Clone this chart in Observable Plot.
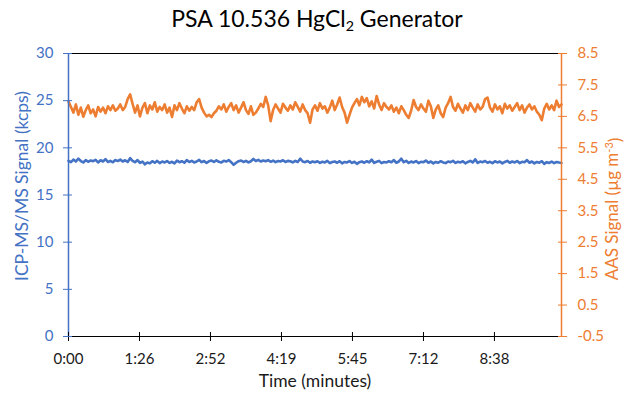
<!DOCTYPE html>
<html><head><meta charset="utf-8">
<script src="https://cdn.jsdelivr.net/npm/d3@7"></script>
<script src="https://cdn.jsdelivr.net/npm/@observablehq/plot@0.6"></script>
<style>
body{margin:0;background:#fff;font-family:Lato,sans-serif}
#title{width:628px;height:35px;display:flex;align-items:center;justify-content:center;font-size:23px;color:#000;font-family:Lato,sans-serif;box-sizing:border-box;padding-left:6px}
#title sub{font-size:0.62em;vertical-align:-0.3em;line-height:0}
</style></head><body>
<div id="title"><span>PSA 10.536 HgCl<sub>2</sub> Generator</span></div>
<div id="chart"></div>
<script>
// ICP-MS/MS signal (kcps), sampled every 3 s from 0:00 to 10:00
const icpValues = [
18.62,18.48,18.75,18.55,18.85,18.60,18.45,18.70,18.52,18.66,
18.58,18.72,18.45,18.68,18.55,18.80,18.50,18.62,18.47,18.70,
18.60,18.75,18.55,18.68,18.50,18.90,18.62,18.48,18.70,18.40,
18.55,18.25,18.45,18.35,18.58,18.42,18.62,18.38,18.55,18.45,
18.60,18.40,18.52,18.35,18.65,18.48,18.58,18.42,18.70,18.50,
18.62,18.45,18.55,18.72,18.48,18.60,18.40,18.58,18.65,18.50,
18.68,18.52,18.45,18.62,18.55,18.70,18.48,18.20,18.42,18.58,
18.65,18.50,18.62,18.45,18.58,18.82,18.60,18.72,18.55,18.66,
18.58,18.70,18.52,18.65,18.48,18.60,18.55,18.68,18.50,18.62,
18.58,18.45,18.62,18.50,18.85,18.55,18.48,18.60,18.42,18.55,
18.48,18.58,18.40,18.52,18.45,18.62,18.38,18.50,18.55,18.42,
18.58,18.35,18.50,18.45,18.60,18.40,18.52,18.30,18.48,18.55,
18.42,18.58,18.45,18.75,18.40,18.52,18.62,18.38,18.50,18.45,
18.58,18.48,18.70,18.42,18.55,18.85,18.48,18.62,18.40,18.55,
18.45,18.60,18.38,18.52,18.48,18.65,18.42,18.55,18.35,18.50,
18.42,18.58,18.45,18.38,18.55,18.48,18.62,18.40,18.52,18.45,
18.58,18.35,18.50,18.62,18.45,18.78,18.40,18.55,18.48,18.60,
18.42,18.52,18.38,18.58,18.45,18.55,18.35,18.50,18.62,18.42,
18.55,18.45,18.60,18.38,18.52,18.48,18.70,18.42,18.55,18.35,
18.50,18.42,18.58,18.30,18.48,18.40,18.55,18.38,18.50,18.44,
18.40];
// AAS signal (µg m-3), sampled every 3 s
const aasValues = [
6.97,6.80,6.62,6.88,6.55,6.78,6.49,6.70,6.85,6.60,
6.72,6.50,6.80,6.65,6.78,6.60,6.82,6.70,6.85,6.68,
6.75,6.88,6.70,6.80,7.05,7.20,6.90,6.62,6.85,6.50,
6.78,6.92,6.60,6.85,6.72,6.95,6.65,6.80,6.70,6.88,
6.62,6.78,6.48,6.85,6.70,6.92,6.75,6.60,6.82,6.68,
6.80,6.70,6.95,7.05,6.78,6.62,6.50,6.55,6.48,6.60,
6.68,6.82,6.72,6.88,6.65,6.80,6.92,6.70,6.85,6.62,
6.78,6.95,6.70,6.58,6.82,6.55,6.62,6.75,6.90,6.80,
7.12,6.85,6.35,6.70,6.88,6.75,6.62,6.90,6.78,6.68,
6.85,6.72,6.95,6.80,6.65,6.88,6.70,6.60,6.30,6.72,
6.85,6.68,6.92,6.75,6.82,6.62,6.78,7.00,6.70,6.88,
7.10,6.80,6.62,6.30,6.55,6.78,6.92,7.05,6.85,7.12,
6.95,7.08,6.82,6.98,6.75,7.15,6.88,6.70,6.92,6.80,
6.72,6.85,6.65,6.78,6.60,6.82,6.70,6.55,6.45,6.68,
7.02,6.80,6.70,6.88,6.75,6.65,7.00,6.82,6.45,6.72,
6.85,6.60,6.48,6.78,6.92,7.12,6.80,6.68,6.90,6.75,
6.62,6.85,6.70,6.92,6.78,6.65,6.88,6.72,6.80,7.05,
7.10,6.78,6.65,6.88,6.72,6.82,6.60,6.90,6.75,6.85,
6.68,6.80,6.92,6.70,6.85,6.62,6.78,6.88,6.72,6.82,
6.65,6.55,6.38,6.75,6.90,6.72,6.85,6.70,7.00,6.80,
6.88];
const sampleStepSeconds = 3;
const xTickSeconds = [0, 86.4, 172.8, 259.2, 345.6, 432, 518.4];
const xTickLabels = ["0:00","1:26","2:52","4:19","5:45","7:12","8:38"];
const leftTicks = [0,5,10,15,20,25,30];
const rightTicks = [-0.5,0.5,1.5,2.5,3.5,4.5,5.5,6.5,7.5,8.5];
const xMax = 600;
const leftMin = 0, leftMax = 30;
const rightMin = -0.5, rightMax = 8.5;

const blue = "#4472C4", orange = "#ED7D31";
const toLeft = v => (v - rightMin) / (rightMax - rightMin) * (leftMax - leftMin) + leftMin;
const toRight = d => (d - leftMin) / (leftMax - leftMin) * (rightMax - rightMin) + rightMin;

const icp = icpValues.map((v, i) => ({t: i * sampleStepSeconds, v}));
const aas = aasValues.map((v, i) => ({t: i * sampleStepSeconds, v}));

const chart = Plot.plot({
  width: 628,
  height: 358,
  marginTop: 18,
  marginBottom: 57,
  marginLeft: 68,
  marginRight: 67,
  style: {fontFamily: "Lato, sans-serif", fontSize: "15px", background: "#fff"},
  x: {domain: [0, xMax]},
  y: {domain: [leftMin, leftMax]},
  marks: [
    Plot.lineY(icp, {x: "t", y: "v", stroke: blue, strokeWidth: 2.6}),
    Plot.lineY(aas, {x: "t", y: d => toLeft(d.v), stroke: orange, strokeWidth: 2.6}),
    Plot.ruleY([leftMax], {stroke: "#000", strokeWidth: 1.2}),
    Plot.ruleY([leftMin], {stroke: "#000", strokeWidth: 1.2}),
    Plot.ruleX([0], {stroke: blue, strokeWidth: 1.5}),
    Plot.ruleX([xMax], {stroke: orange, strokeWidth: 1.5}),
    Plot.axisX(xTickSeconds, {anchor: "bottom", tickSize: 9, dy: -4, tickPadding: 12, label: null,
      tickFormat: d => xTickLabels[xTickSeconds.indexOf(d)], stroke: "#000", fill: "#1a1a1a", fontSize: 15}),
    Plot.axisY(leftTicks, {anchor: "left", tickSize: 9, dx: 4, tickPadding: 10, label: null,
      stroke: blue, fill: blue, fontSize: 15}),
    Plot.axisY(rightTicks.map(toLeft), {anchor: "right", tickSize: 9, dx: -4, tickPadding: 11, label: null,
      tickFormat: d => toRight(d).toFixed(1), stroke: orange, fill: orange, fontSize: 15}),
    Plot.text(["Time (minutes)"], {frameAnchor: "bottom", dy: 50, fill: "#1a1a1a", fontSize: 17.5, textAnchor: "middle"}),
    Plot.text(["ICP-MS/MS Signal (kcps)"], {frameAnchor: "left", dx: -46, dy: -9, rotate: -90, textAnchor: "middle", fill: blue, fontSize: 17.5}),
    Plot.text(["AAS Signal (µg m-3)"], {frameAnchor: "right", dx: 51, dy: 14, rotate: -90, textAnchor: "middle", fill: orange, fontSize: 17})
  ]
});
document.getElementById("chart").appendChild(chart);
// superscript for the unit on the right-axis title
chart.querySelectorAll("text").forEach(t => {
  if (t.textContent === "AAS Signal (µg m-3)") {
    t.innerHTML = 'AAS Signal (µg m<tspan dy="-0.45em" font-size="11">-3</tspan><tspan dy="0.45em">)</tspan>';
  }
});
</script>
</body></html>
